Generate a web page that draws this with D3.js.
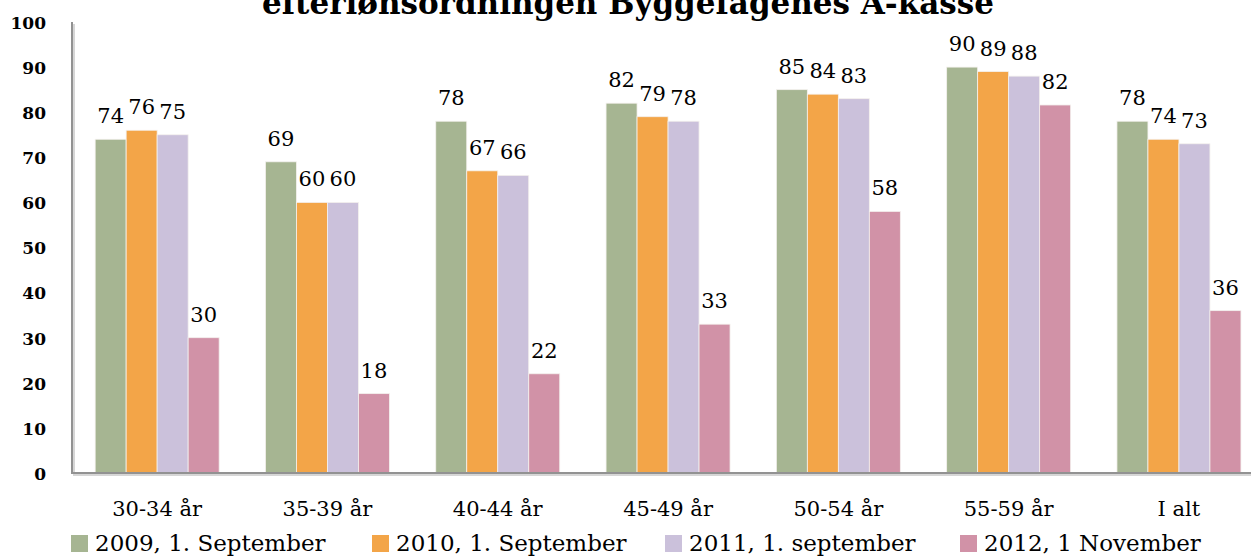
<!DOCTYPE html>
<html>
<head>
<meta charset="utf-8">
<script src="https://cdn.jsdelivr.net/npm/d3@7"></script>
<style>
  body { margin: 0; background: #fff; }
  svg { display: block; font-family: "DejaVu Serif", serif; }
</style>
</head>
<body>
<div id="draw"></div>
<script>
var title = 'efterlønsordningen Byggefagenes A-kasse';
var categories = ['30-34 år', '35-39 år', '40-44 år', '45-49 år', '50-54 år', '55-59 år', 'I alt'];
var seriesNames = ['2009, 1. September', '2010, 1. September', '2011, 1. september', '2012, 1 November'];
var colors = ['#a6b592', '#f3a548', '#cbc1db', '#d192a7'];
var s2009 = [74, 69, 78, 82, 85, 90, 78];
var s2010 = [76, 60, 67, 79, 84, 89, 74];
var s2011 = [75, 60, 66, 78, 83, 88, 73];
var s2012 = [30, 17.6, 22, 33, 58, 81.6, 36];
var yTicks = [0, 10, 20, 30, 40, 50, 60, 70, 80, 90, 100];

var series = [s2009, s2010, s2011, s2012];

var W = 1251, H = 557;
var mLeft = 72, mBottom = 473, mTop = 22;
var step = 170.3; // category width

var svg = d3.select('#draw').append('svg')
  .attr('width', W).attr('height', H);

var x0 = d3.scaleBand().domain(categories)
  .range([mLeft, mLeft + step * categories.length]).padding(0);
var x1 = d3.scaleBand().domain(d3.range(seriesNames.length))
  .range([0, x0.bandwidth()]).paddingInner(0).paddingOuter(0.747);
var y = d3.scaleLinear().domain([0, 100]).range([mBottom, mTop]);

// title (cut off at top like the original)
svg.append('text')
  .attr('x', 628).attr('y', 14)
  .attr('text-anchor', 'middle')
  .attr('font-size', 31).attr('font-weight', 'bold')
  .attr('fill', '#000')
  .text(title);

// bars
categories.forEach(function(c, i) {
  series.forEach(function(s, k) {
    var bx = x0(c) + x1(k);
    svg.append('rect')
      .attr('x', bx).attr('y', y(s[i]))
      .attr('width', x1.bandwidth()).attr('height', y(0) - y(s[i]))
      .attr('fill', colors[k])
      .attr('stroke', '#f4f1ee').attr('stroke-width', 0.8);
    svg.append('text')
      .attr('x', bx + x1.bandwidth() / 2).attr('y', y(s[i]) - 16)
      .attr('text-anchor', 'middle')
      .attr('font-size', 21).attr('fill', '#000')
      .text(Math.round(s[i]));
  });
});

// axes (with a small shadow like the original)
svg.append('path')
  .attr('d', 'M' + (mLeft + 2) + ',' + (mTop + 2) + 'V' + (mBottom + 2) + 'H' + W)
  .attr('fill', 'none').attr('stroke', '#d6d6d6').attr('stroke-width', 2);
svg.append('path')
  .attr('d', 'M' + mLeft + ',' + mTop + 'V' + mBottom + 'H' + W)
  .attr('fill', 'none').attr('stroke', '#929292').attr('stroke-width', 2);

// y tick labels
svg.selectAll('.ytick').data(yTicks).enter().append('text')
  .attr('class', 'ytick')
  .attr('x', 46).attr('y', function(d) { return y(d); })
  .attr('dy', '0.4em')
  .attr('text-anchor', 'end')
  .attr('font-size', 17).attr('font-weight', 'bold')
  .text(function(d) { return d; });

// x labels
svg.selectAll('.xlab').data(categories).enter().append('text')
  .attr('class', 'xlab')
  .attr('x', function(d) { return x0(d) + x0.bandwidth() / 2; })
  .attr('y', 516)
  .attr('text-anchor', 'middle')
  .attr('font-size', 21)
  .text(function(d) { return d; });

// legend
var legX = [71, 372, 665, 960];
seriesNames.forEach(function(n, k) {
  svg.append('rect')
    .attr('x', legX[k]).attr('y', 535)
    .attr('width', 17).attr('height', 17)
    .attr('fill', colors[k]);
  svg.append('text')
    .attr('x', legX[k] + 24).attr('y', 551)
    .attr('font-size', 23)
    .text(n);
});
</script>
</body>
</html>
